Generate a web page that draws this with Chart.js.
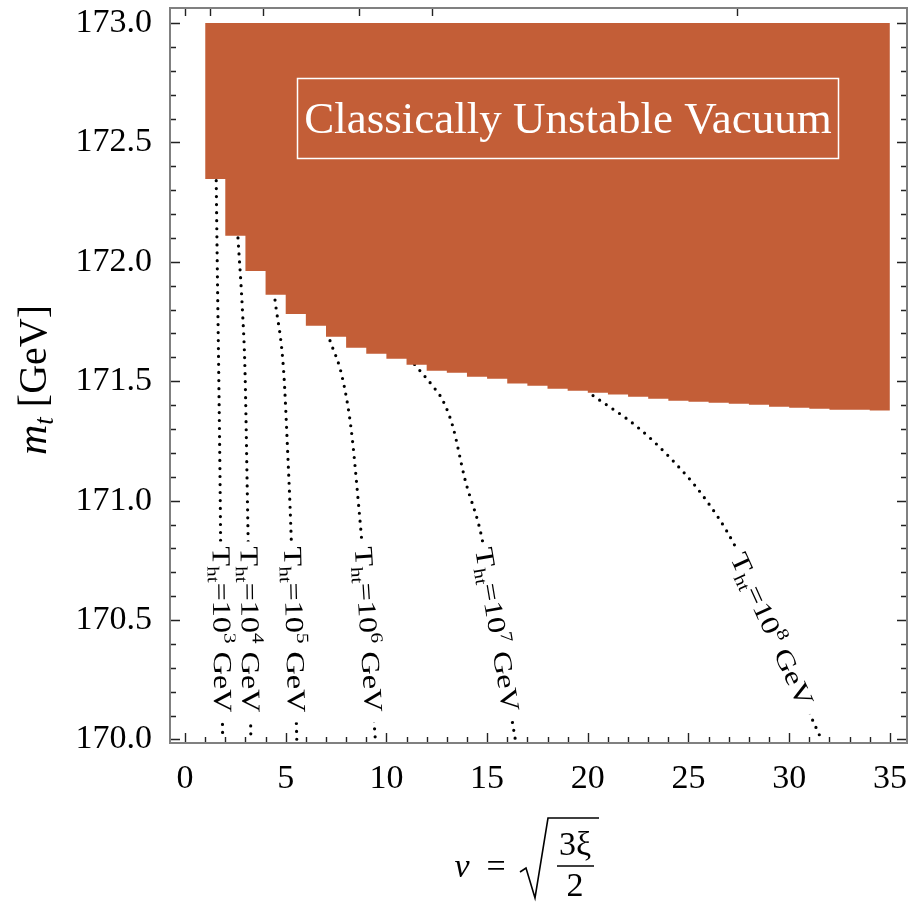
<!DOCTYPE html>
<html>
<head>
<meta charset="utf-8">
<script src="https://cdn.jsdelivr.net/npm/chart.js@4.4.1/dist/chart.umd.min.js"></script>
<style>
html, body { margin: 0; padding: 0; background: #fff; }
</style>
</head>
<body>
<canvas id="chart" width="923" height="902"></canvas>
<script>
// grid of nu values and the edge of the unstable region
const nuGrid = [1, 2, 3, 4, 5, 6, 7, 8, 9, 10, 11, 12, 13, 14, 15, 16, 17, 18, 19, 20,
                21, 22, 23, 24, 25, 26, 27, 28, 29, 30, 31, 32, 33, 34, 35];
const mtEdge = [172.347, 172.109, 171.962, 171.862, 171.782, 171.732, 171.686, 171.640, 171.615, 171.594,
                171.569, 171.544, 171.536, 171.519, 171.510, 171.490, 171.481, 171.469, 171.460, 171.452,
                171.444, 171.435, 171.427, 171.418, 171.414, 171.410, 171.406, 171.402, 171.393, 171.389,
                171.385, 171.381, 171.381, 171.377, 171.377];
const mtTop = 173.0;

// T_ht contours
const nuT3 = [1.55, 1.60, 1.68, 1.75, 1.80, 1.87];
const mtT3 = [172.34, 172.0, 171.5, 171.0, 170.5, 170.0];
const nuT4 = [2.63, 2.85, 2.98, 3.10, 3.20, 3.27];
const mtT4 = [172.10, 171.80, 171.54, 171.0, 170.5, 170.0];
const nuT5 = [4.47, 4.90, 5.10, 5.25, 5.40, 5.55];
const mtT5 = [171.84, 171.54, 171.2, 170.9, 170.5, 170.0];
const nuT6 = [7.2, 7.8, 8.25, 8.6, 8.9, 9.2, 9.45];
const mtT6 = [171.67, 171.52, 171.3, 171.0, 170.7, 170.3, 170.0];
const nuT7 = [11.4, 12.3, 12.8, 13.3, 13.9, 14.75, 15.4, 16.0, 16.4];
const mtT7 = [171.57, 171.48, 171.42, 171.31, 171.09, 170.84, 170.5, 170.2, 170.0];
const nuT8 = [20.26, 22.44, 24.08, 25.72, 27.31, 28.9, 31.6];
const mtT8 = [171.44, 171.31, 171.18, 171.02, 170.81, 170.5, 170.0];
const expLabels = ['3', '4', '5', '6', '7', '8'];
const labelMt = 170.45;

// ticks
const xTicks = [0, 5, 10, 15, 20, 25, 30, 35];
const xMinor = [0, 1, 2, 3, 4, 5, 6, 7, 8, 9, 10, 11, 12, 13, 14, 15, 16, 17, 18, 19, 20,
                21, 22, 23, 24, 25, 26, 27, 28, 29, 30, 31, 32, 33, 34, 35];
const yTicks = [170.0, 170.5, 171.0, 171.5, 172.0, 172.5, 173.0];
const yMinor = [170.0, 170.1, 170.2, 170.3, 170.4, 170.5, 170.6, 170.7, 170.8, 170.9,
                171.0, 171.1, 171.2, 171.3, 171.4, 171.5, 171.6, 171.7, 171.8, 171.9,
                172.0, 172.1, 172.2, 172.3, 172.4, 172.5, 172.6, 172.7, 172.8, 172.9, 173.0];
const xiTop = [0, 1, 10, 50, 100, 500];

const boxText = 'Classically Unstable Vacuum';
const fillColor = '#c35e37';
const serif = '"Liberation Serif", "DejaVu Serif", serif';

const toPts = (xs, ys) => xs.map((x, i) => ({x: x, y: ys[i]}));
const curves = [[nuT3, mtT3], [nuT4, mtT4], [nuT5, mtT5], [nuT6, mtT6], [nuT7, mtT7], [nuT8, mtT8]];

const datasets = [{
    data: toPts(nuGrid, mtEdge),
    stepped: true,
    borderWidth: 0,
    pointRadius: 0,
    backgroundColor: fillColor,
    fill: {value: mtTop}
}];
curves.forEach(c => {
    datasets.push({
        data: toPts(c[0], c[1]),
        borderColor: '#000',
        borderWidth: 3.2,
        borderDash: [0, 8],
        borderCapStyle: 'round',
        pointRadius: 0,
        cubicInterpolationMode: 'monotone',
        fill: false
    });
});

// text with sub/superscripts drawn piece by piece
function drawPieces(ctx, pieces, x, y) {
    let w = 0;
    pieces.forEach(p => { ctx.font = p.font; w += ctx.measureText(p.t).width; });
    let cx = x - w / 2;
    pieces.forEach(p => {
        ctx.font = p.font;
        ctx.fillText(p.t, cx, y + (p.dy || 0));
        cx += ctx.measureText(p.t).width;
    });
    return w;
}

function curveLabelAt(xs, ys, m, sx, sy) {
    for (let i = 0; i < xs.length - 1; i++) {
        if ((ys[i] - m) * (ys[i + 1] - m) <= 0) {
            const t = (m - ys[i]) / (ys[i + 1] - ys[i]);
            const px0 = sx.getPixelForValue(xs[i]), py0 = sy.getPixelForValue(ys[i]);
            const px1 = sx.getPixelForValue(xs[i + 1]), py1 = sy.getPixelForValue(ys[i + 1]);
            return {x: px0 + t * (px1 - px0), y: py0 + t * (py1 - py0), a: Math.atan2(py1 - py0, px1 - px0)};
        }
    }
    return null;
}

const decorPlugin = {
    id: 'decor',
    afterDatasetsDraw(chart) {
        const ctx = chart.ctx;
        const sx = chart.scales.x, sy = chart.scales.y;

        // labels along the contours
        curves.forEach((c, k) => {
            const p = curveLabelAt(c[0], c[1], labelMt, sx, sy);
            if (!p) return;
            const big = '26px ' + serif, small = '17px ' + serif;
            const pieces = [
                {t: 'T', font: big}, {t: 'ht', font: small, dy: 5},
                {t: '=10', font: big}, {t: expLabels[k], font: small, dy: -11},
                {t: ' GeV', font: big}
            ];
            ctx.save();
            ctx.translate(p.x, p.y);
            ctx.rotate(p.a);
            let w = 0;
            pieces.forEach(q => { ctx.font = q.font; w += ctx.measureText(q.t).width; });
            ctx.scale(166 / w, 1);
            ctx.fillStyle = '#fff';
            ctx.fillRect(-w / 2 - 6, -14, w + 12, 28);
            ctx.fillStyle = '#000';
            ctx.textBaseline = 'alphabetic';
            drawPieces(ctx, pieces, -2, 8);
            ctx.restore();
        });

        // boxed annotation
        ctx.save();
        ctx.strokeStyle = '#fff';
        ctx.lineWidth = 1.5;
        ctx.strokeRect(297.5, 78.5, 541, 80);
        ctx.fillStyle = '#fff';
        ctx.font = '45px ' + serif;
        ctx.textAlign = 'center';
        ctx.textBaseline = 'middle';
        ctx.fillText(boxText, 568, 121);
        ctx.restore();
    },
    afterDraw(chart) {
        const ctx = chart.ctx;
        const a = chart.chartArea;
        const sx = chart.scales.x, sy = chart.scales.y;
        ctx.save();
        // ticks (inward)
        ctx.strokeStyle = '#222';
        ctx.lineWidth = 1.4;
        ctx.beginPath();
        xMinor.forEach(v => {
            const x = Math.round(sx.getPixelForValue(v)) + 0.5;
            const len = xTicks.includes(v) ? 10 : 6;
            ctx.moveTo(x, a.bottom); ctx.lineTo(x, a.bottom - len);
        });
        xiTop.forEach(v => {
            const x = Math.round(sx.getPixelForValue(Math.sqrt(1.5 * v))) + 0.5;
            ctx.moveTo(x, a.top); ctx.lineTo(x, a.top + 8);
        });
        yMinor.forEach(v => {
            const y = Math.round(sy.getPixelForValue(v)) + 0.5;
            const major = yTicks.some(t => Math.abs(t - v) < 1e-6);
            const len = major ? 10 : 6;
            ctx.moveTo(a.left, y); ctx.lineTo(a.left + len, y);
            ctx.moveTo(a.right, y); ctx.lineTo(a.right - len, y);
        });
        ctx.stroke();
        // frame
        ctx.strokeStyle = '#808080';
        ctx.lineWidth = 2;
        ctx.strokeRect(a.left, a.top, a.right - a.left, a.bottom - a.top);

        // axis titles
        ctx.fillStyle = '#000';
        ctx.textBaseline = 'alphabetic';
        ctx.save();
        ctx.translate(33, 380);
        ctx.rotate(-Math.PI / 2);
        drawPieces(ctx, [
            {t: 'm', font: 'italic 42px ' + serif},
            {t: 't', font: 'italic 27px ' + serif, dy: 7},
            {t: ' [GeV]', font: '40px ' + serif}
        ], 0, 13);
        ctx.restore();

        ctx.font = 'italic 34px ' + serif;
        ctx.textAlign = 'center';
        ctx.fillText('\u03bd', 462, 877);
        ctx.font = '34px ' + serif;
        ctx.fillText('=', 496, 877);
        ctx.fillText('3\u03be', 575, 855);
        ctx.fillText('2', 575, 896);
        ctx.lineWidth = 1.5;
        ctx.strokeStyle = '#000';
        ctx.beginPath();
        ctx.moveTo(557, 866); ctx.lineTo(594, 866);
        ctx.stroke();
        ctx.beginPath();
        ctx.moveTo(520, 872); ctx.lineTo(526, 868);
        ctx.lineTo(535, 898); ctx.lineTo(548, 818);
        ctx.lineTo(599, 818);
        ctx.lineWidth = 1.6;
        ctx.stroke();
        ctx.restore();
    }
};

new Chart(document.getElementById('chart'), {
    type: 'line',
    data: {datasets: datasets},
    options: {
        responsive: false,
        animation: false,
        layout: {padding: {top: 8, right: 16, left: 0, bottom: 0}},
        plugins: {legend: {display: false}, tooltip: {enabled: false}},
        scales: {
            x: {
                type: 'linear',
                min: -0.745,
                max: 35.85,
                afterFit: s => { s.height = 159; s.paddingLeft = 0; s.paddingRight = 0; },
                afterBuildTicks: s => { s.ticks = xTicks.map(v => ({value: v})); },
                grid: {display: false},
                border: {display: false},
                ticks: {
                    color: '#000',
                    padding: 8,
                    maxRotation: 0,
                    font: {family: serif, size: 34},
                    callback: v => String(v)
                }
            },
            y: {
                type: 'linear',
                min: 169.985,
                max: 173.063,
                afterFit: s => { s.width = 170; s.paddingTop = 0; s.paddingBottom = 0; },
                afterBuildTicks: s => { s.ticks = yTicks.map(v => ({value: v})); },
                grid: {display: false},
                border: {display: false},
                ticks: {
                    color: '#000',
                    padding: 10,
                    font: {family: serif, size: 34},
                    callback: v => v.toFixed(1)
                }
            }
        }
    },
    plugins: [decorPlugin]
});
</script>
</body>
</html>
